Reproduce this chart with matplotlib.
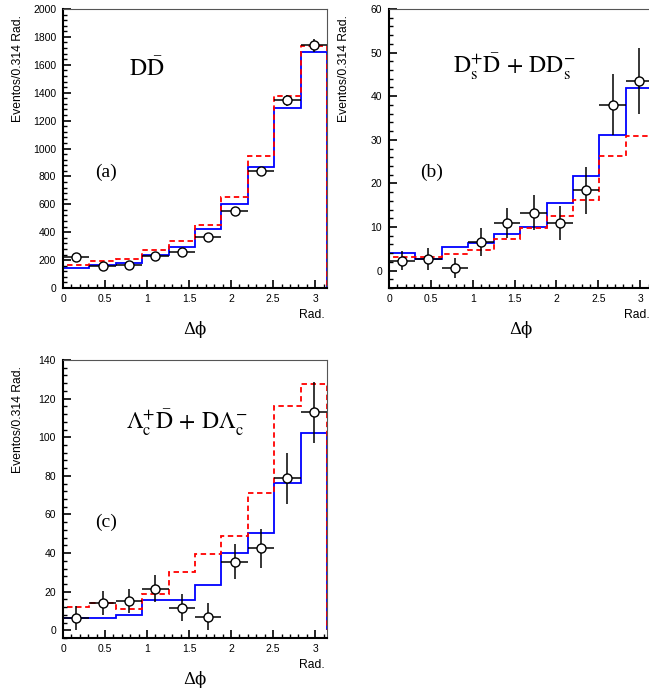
import matplotlib
matplotlib.use('Agg')
import matplotlib.pyplot as plt
import numpy as np
from matplotlib.ticker import MultipleLocator, FormatStrFormatter

plt.rcParams['font.family'] = ['Liberation Sans', 'DejaVu Sans']
plt.rcParams['mathtext.fontset'] = 'stix'

# bins: 10 bins in delta phi, 0..pi
edges = np.linspace(0, np.pi, 11)
centers = 0.5 * (edges[:-1] + edges[1:])
half_w = 0.5 * (edges[1] - edges[0])

# (a) D Dbar
a_data = [225, 155, 162, 227, 260, 368, 550, 841, 1345, 1740]
a_err = [15, 12, 13, 15, 16, 19, 23, 29, 38, 45]
a_blue = [141, 162, 177, 234, 294, 423, 602, 867, 1290, 1692]
a_red = [162, 191, 210, 270, 335, 452, 650, 946, 1376, 1732]

# (b) Ds+ Dbar + D Ds-
b_data = [2.3, 2.6, 0.5, 6.5, 10.9, 13.3, 10.9, 18.4, 38.0, 43.5]
b_err = [2.1, 2.5, 2.3, 3.2, 3.5, 4.0, 3.9, 5.4, 7.0, 7.6]
b_blue = [4.0, 2.6, 5.4, 6.3, 8.3, 9.9, 15.4, 21.8, 31.2, 41.8]
b_red = [3.1, 3.2, 3.8, 4.7, 7.3, 9.8, 12.5, 16.2, 26.2, 30.8]

# (c) Lambda_c+ Dbar + D Lambda_c-
c_data = [6.2, 14.3, 15.2, 21.6, 11.7, 7.1, 35.6, 42.5, 78.7, 112.9]
c_err = [6.3, 6.3, 6.3, 7.1, 6.9, 7.2, 8.9, 10.0, 13.2, 15.8]
c_blue = [6.6, 6.2, 7.9, 15.5, 15.9, 23.5, 39.9, 50.2, 76.5, 102.4]
c_red = [12.3, 14.0, 11.2, 18.6, 30.0, 39.4, 49.0, 71.3, 116.2, 127.4]

fig = plt.figure(figsize=(6.49, 6.92), dpi=100)

panels = [
    ([0.0971, 0.5838, 0.4068, 0.4032], a_data, a_err, a_blue, a_red,
     (0, 2000), 200, 40, r'$\mathrm{D\bar{D}}$', (0.318, 0.785), '(a)'),
    ([0.5994, 0.5838, 0.4052, 0.4032], b_data, b_err, b_blue, b_red,
     (-4, 60), 10, 2, r'$\mathrm{D_s^{+}\bar{D}\,+\,DD_s^{-}}$', (0.475, 0.792), '(b)'),
    ([0.0971, 0.0780, 0.4068, 0.4017], c_data, c_err, c_blue, c_red,
     (-4, 140), 20, 4, r'$\mathrm{\Lambda_c^{+}\bar{D}\,+\,D\Lambda_c^{-}}$', (0.47, 0.773), '(c)'),
]

for rect, data, err, blue, red, ylim, ymaj, ymin, title, tpos, tag in panels:
    ax = fig.add_axes(rect)
    ax.stairs(blue, edges, baseline=0, color='#0000ff', lw=1.3)
    ax.stairs(red, edges, baseline=0, color='#ff0000', lw=1.3, ls=(0, (3, 2)))
    ax.errorbar(centers, data, yerr=err, xerr=half_w, fmt='o', color='black',
                mfc='white', mec='black', ms=6.5, mew=1.0, elinewidth=1.1,
                capsize=0, zorder=5)
    ax.set_xlim(0, np.pi)
    ax.set_ylim(*ylim)
    ax.xaxis.set_major_locator(MultipleLocator(0.5))
    ax.xaxis.set_minor_locator(MultipleLocator(0.1))
    ax.xaxis.set_major_formatter(FormatStrFormatter('%g'))
    ax.yaxis.set_major_locator(MultipleLocator(ymaj))
    ax.yaxis.set_minor_locator(MultipleLocator(ymin))
    ax.tick_params(which='both', direction='in', labelsize=7.5, top=False, right=False)
    ax.tick_params(which='major', length=6, width=1.2)
    ax.tick_params(which='minor', length=3, width=1.0)
    ax.tick_params(axis='x', pad=4)
    ax.tick_params(axis='y', pad=5)
    for s in ['left', 'bottom']:
        ax.spines[s].set_linewidth(1.5)
    for s in ['top', 'right']:
        ax.spines[s].set_linewidth(0.8)
        ax.spines[s].set_color('#555555')

    ax.text(-0.17, 0.98, 'Eventos/0.314 Rad.', rotation=90, ha='center', va='top',
            fontsize=8.7, transform=ax.transAxes)
    ax.text(0.99, -0.097, 'Rad.', ha='right', va='center', fontsize=8.7,
            transform=ax.transAxes)
    ax.text(0.5, -0.15, 'Δϕ', ha='center', va='center', fontsize=12,
            family=['DejaVu Serif'], transform=ax.transAxes)
    ax.text(tpos[0], tpos[1], title, ha='center', va='center', fontsize=17,
            transform=ax.transAxes)
    ax.text(0.163, 0.416, tag, ha='center', va='center', fontsize=14,
            family='Liberation Serif', transform=ax.transAxes)

fig.savefig('out.png', dpi=100)
